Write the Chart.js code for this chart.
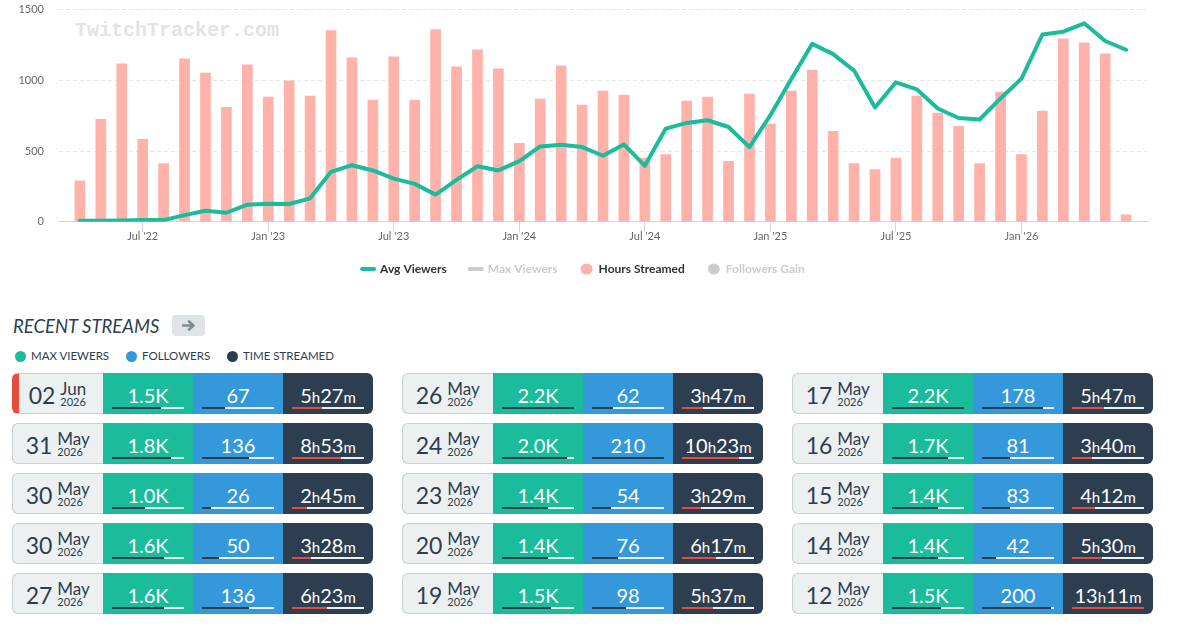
<!DOCTYPE html>
<html>
<head>
<meta charset="utf-8">
<script src="https://cdn.jsdelivr.net/npm/chart.js@4.4.1/dist/chart.umd.min.js"></script>
<style>
    body { margin: 0; width: 1187px; height: 640px; position: relative; overflow: hidden; background: #fff; font-family: Lato, "Noto Sans", sans-serif; color: #2c3e50; }
    #chartBox { position: absolute; left: 0; top: -12px; width: 1187px; height: 298px; }
    #watermark { position: absolute; left: 75px; top: 21px; font: bold 20px/20px "Liberation Mono", "DejaVu Sans Mono", monospace; color: #e3e3e3; }

    #recentTitle { position: absolute; left: 13px; top: 316px; font-style: italic; font-size: 18.5px; line-height: 20px; color: #2c3e50; }
    #recentBtn { position: absolute; left: 172px; top: 315px; width: 33px; height: 21px; border-radius: 4px; background: #dfe4e7; display: flex; align-items: center; justify-content: center; }

    .lg { position: absolute; top: 349px; display: flex; align-items: center; font-size: 11.5px; line-height: 14px; color: #2c3e50; }
    .lg i { width: 11px; height: 11px; border-radius: 50%; margin-right: 5px; display: inline-block; }

    #cards { position: absolute; left: 12px; top: 373px; display: grid; grid-template-columns: repeat(3, 361px); grid-template-rows: repeat(5, 41px); column-gap: 29px; row-gap: 9px; grid-auto-flow: column; }
    .card { display: grid; grid-template-columns: 91px 90px 90px 90px; height: 41px; }
    .date { background: #ecf0f1; border: 1px solid #c9cfd3; border-right: none; border-radius: 6px 0 0 6px; display: flex; justify-content: center; align-items: flex-start; padding-top: 7px; box-sizing: border-box; }
    .card.live .date { border-left: 7px solid #e74c3c; }
    .day { font-size: 23px; line-height: 26px; margin-top: 1px; }
    .mon { margin-left: 5px; min-width: 33px; }
    .mon b { display: block; font-weight: 400; font-size: 17px; line-height: 15px; }
    .mon span { display: block; font-size: 11px; line-height: 12px; }
    .cell { position: relative; color: #fff; text-align: center; }
    .v { position: absolute; left: 0; right: 0; top: 12px; font-size: 20px; line-height: 20px; white-space: nowrap; }
    .u { font-size: 15px; }
    .bar { position: absolute; left: 9px; top: 34px; width: 72px; height: 2px; background: #ecf0f1; }
    .bar i { display: block; height: 100%; background: #2c3e50; }
    .g { background: #1abc9c; }
    .b { background: #3498db; }
    .t { background: #2c3e50; border-radius: 0 6px 6px 0; }
    .t .bar i { background: #e74c3c; }
</style>
</head>
<body>
<div id="watermark">TwitchTracker.com</div>
<div id="chartBox"><canvas id="viewersChart"></canvas></div>

<div id="recentTitle">RECENT STREAMS</div>
<div id="recentBtn">
    <svg width="14" height="11" viewBox="0 0 14 11"><path d="M1 5.5 H11 M7 1.5 L11.5 5.5 L7 9.5" fill="none" stroke="#7f8c8d" stroke-width="2.6" stroke-linecap="round" stroke-linejoin="round"/></svg>
</div>

<div class="lg" style="left:15px"><i style="background:#1abc9c"></i>MAX VIEWERS</div>
<div class="lg" style="left:126px"><i style="background:#3498db"></i>FOLLOWERS</div>
<div class="lg" style="left:227px"><i style="background:#2c3e50"></i>TIME STREAMED</div>

<div id="cards"></div>

<script>
const months = [
    "Apr '22", "May '22", "Jun '22", "Jul '22", "Aug '22", "Sep '22", "Oct '22", "Nov '22", "Dec '22",
    "Jan '23", "Feb '23", "Mar '23", "Apr '23", "May '23", "Jun '23", "Jul '23", "Aug '23", "Sep '23", "Oct '23", "Nov '23", "Dec '23",
    "Jan '24", "Feb '24", "Mar '24", "Apr '24", "May '24", "Jun '24", "Jul '24", "Aug '24", "Sep '24", "Oct '24", "Nov '24", "Dec '24",
    "Jan '25", "Feb '25", "Mar '25", "Apr '25", "May '25", "Jun '25", "Jul '25", "Aug '25", "Sep '25", "Oct '25", "Nov '25", "Dec '25",
    "Jan '26", "Feb '26", "Mar '26", "Apr '26", "May '26", "Jun '26"
];

const hoursStreamed = [
    290, 725, 1116, 583, 412, 1152, 1052, 810, 1109,
    882, 997, 889, 1351, 1159, 860, 1166, 860, 1358, 1095, 1216, 1081,
    555, 867, 1102, 825, 924, 896, 448, 476, 853, 882, 427, 903,
    690, 924, 1073, 640, 412, 370, 448, 889, 768, 675, 412, 917,
    476, 782, 1294, 1265, 1187, 50
];

const avgViewers = [
    7, 8, 10, 12, 12, 47, 78, 64, 121,
    128, 126, 166, 353, 400, 363, 305, 268, 192, 296, 393, 363,
    429, 533, 545, 528, 467, 547, 396, 659, 699, 718, 670, 528,
    754, 1010, 1258, 1185, 1069, 808, 986, 936, 801, 734, 723, 872,
    1012, 1324, 1344, 1403, 1278, 1216
];

const yTicks = [0, 500, 1000, 1500];

// recent streams table
const streamDays = ["02", "31", "30", "30", "27", "26", "24", "23", "20", "19", "17", "16", "15", "14", "12"];
const streamMonths = ["Jun", "May", "May", "May", "May", "May", "May", "May", "May", "May", "May", "May", "May", "May", "May"];
const streamYears = ["2026", "2026", "2026", "2026", "2026", "2026", "2026", "2026", "2026", "2026", "2026", "2026", "2026", "2026", "2026"];
const streamMaxViewers = ["1.5K", "1.8K", "1.0K", "1.6K", "1.6K", "2.2K", "2.0K", "1.4K", "1.4K", "1.5K", "2.2K", "1.7K", "1.4K", "1.4K", "1.5K"];
const streamFollowers = [67, 136, 26, 50, 136, 62, 210, 54, 76, 98, 178, 81, 83, 42, 200];
const streamDurations = ["5h27m", "8h53m", "2h45m", "3h28m", "6h23m", "3h47m", "10h23m", "3h29m", "6h17m", "5h37m", "5h47m", "3h40m", "4h12m", "5h30m", "13h11m"];

const GREEN = "#1abc9c";
const SALMON = "#feb2a9";
const HIDDEN = "#cccccc";
const AXIS = "#ccd6eb";


function legendLabels(chart) {
    return chart.data.datasets.map((ds, i) => ({
        text: ds.label,
        fillStyle: ds.legendColor,
        strokeStyle: ds.legendColor,
        lineWidth: ds.legendStyle === "line" ? 4 : 0,
        lineCap: "round",
        pointStyle: ds.legendStyle,
        fontColor: ds.legendOff ? HIDDEN : "#333333",
        hidden: false,
        datasetIndex: i
    }));
}

// nudge the legend: a bit right of centre and closer to the axis
const legendShift = {
    id: "legendShift",
    afterLayout(chart) {
        chart.legend.left += 20;
        chart.legend.top -= 1;
    }
};


function createChart() {
    const ctx = document.getElementById("viewersChart").getContext("2d");
    const font = { family: "Lato", size: 11 };

    return new Chart(ctx, {
        type: "bar",
        data: {
            datasets: [{
                type: "line",
                label: "Avg Viewers",
                data: avgViewers.map((v, i) => ({ x: i, y: v })),
                borderColor: GREEN,
                borderWidth: 4,
                borderJoinStyle: "round",
                borderCapStyle: "round",
                pointRadius: 0,
                tension: 0,
                order: 0,
                legendColor: GREEN,
                legendStyle: "line"
            }, {
                type: "line",
                label: "Max Viewers",
                data: [],
                hidden: true,
                order: 1,
                legendColor: HIDDEN,
                legendStyle: "line",
                legendOff: true
            }, {
                label: "Hours Streamed",
                data: hoursStreamed.map((v, i) => ({ x: i, y: v })),
                backgroundColor: SALMON,
                barThickness: 10,
                order: 2,
                legendColor: SALMON,
                legendStyle: "circle"
            }, {
                label: "Followers Gain",
                data: [],
                hidden: true,
                order: 3,
                legendColor: HIDDEN,
                legendStyle: "circle",
                legendOff: true
            }]
        },
        options: {
            responsive: true,
            maintainAspectRatio: false,
            animation: false,
            events: [],
            layout: { padding: { left: 0, right: 40, top: 10, bottom: 0 } },
            scales: {
                x: {
                    type: "linear",
                    min: -1,
                    max: months.length,
                    offset: false,
                    grid: { drawOnChartArea: false, drawTicks: true, tickLength: 10, color: AXIS, offset: false },
                    border: { display: true, color: AXIS },
                    afterBuildTicks: (scale) => {
                        scale.ticks = months
                            .map((m, i) => ({ value: i }))
                            .filter(t => /^(Jan|Jul)/.test(months[t.value]));
                    },
                    ticks: {
                        autoSkip: false,
                        maxRotation: 0,
                        padding: -2,
                        color: "#666666",
                        font: font,
                        callback: (v) => months[v]
                    }
                },
                y: {
                    min: yTicks[0],
                    max: yTicks[yTicks.length - 1],
                    afterFit: (scale) => { scale.width = 59; },
                    afterBuildTicks: (scale) => { scale.ticks = yTicks.map(v => ({ value: v })); },
                    grid: { color: "#e6e6e6", drawTicks: false },
                    border: { display: false, dash: [4, 3] },
                    ticks: { padding: 15, color: "#666666", font: font, callback: (v) => String(v) }
                }
            },
            plugins: {
                tooltip: { enabled: false },
                legend: {
                    position: "bottom",
                    align: "center",
                    labels: {
                        usePointStyle: true,
                        pointStyleWidth: 12,
                        boxHeight: 7.8,
                        padding: 23,
                        color: "#333333",
                        font: { family: "Lato", size: 12, weight: "bold" },
                        generateLabels: legendLabels
                    }
                }
            }
        },
        plugins: [legendShift]
    });
}


function toMinutes(d) {
    const m = d.match(/(\d+)h(\d+)m/);
    return parseInt(m[1]) * 60 + parseInt(m[2]);
}

function buildCards() {
    const box = document.getElementById("cards");
    const maxViewers = Math.max(...streamMaxViewers.map(parseFloat));
    const maxFollowers = Math.max(...streamFollowers);
    const maxMinutes = Math.max(...streamDurations.map(toMinutes));

    streamDays.forEach((day, i) => {
        const viewerPct = parseFloat(streamMaxViewers[i]) / maxViewers * 100;
        const followerPct = streamFollowers[i] / maxFollowers * 100;
        const timePct = toMinutes(streamDurations[i]) / maxMinutes * 100;
        const [, h, m] = streamDurations[i].match(/(\d+)h(\d+)m/);

        const card = document.createElement("div");
        card.className = "card" + (i === 0 ? " live" : "");
        card.innerHTML =
            `<div class="date"><span class="day">${day}</span><span class="mon"><b>${streamMonths[i]}</b><span>${streamYears[i]}</span></span></div>` +
            `<div class="cell g"><div class="v">${streamMaxViewers[i]}</div><div class="bar"><i style="width:${viewerPct}%"></i></div></div>` +
            `<div class="cell b"><div class="v">${streamFollowers[i]}</div><div class="bar"><i style="width:${followerPct}%"></i></div></div>` +
            `<div class="cell t"><div class="v">${h}<span class="u">h</span>${m}<span class="u">m</span></div><div class="bar"><i style="width:${timePct}%"></i></div></div>`;
        box.appendChild(card);
    });
}


createChart();
buildCards();
</script>
</body>
</html>
